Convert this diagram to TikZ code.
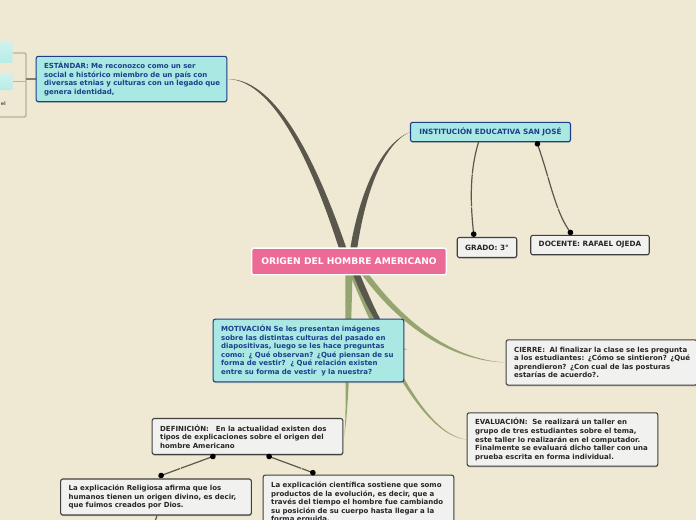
\documentclass[tikz,border=0pt]{standalone}
\usepackage{fontspec}
\setmainfont{DejaVu Sans}
\usetikzlibrary{calc,shadows,arrows.meta}
\definecolor{paper}{HTML}{EFE8D2}
\definecolor{tealfill}{HTML}{A9E8E3}
\definecolor{navy}{HTML}{1C3F8C}
\definecolor{notefill}{HTML}{F1F1EF}
\definecolor{rootfill}{HTML}{EC6A96}
\definecolor{branchdark}{HTML}{5A584C}
\definecolor{branchgreen}{HTML}{95A56F}
\definecolor{bracket}{HTML}{B9B29A}
\pgfdeclarelayer{back}
\pgfsetlayers{back,main}
\tikzset{
  basebox/.style={rectangle,rounded corners=1.6pt,line width=0.8pt,inner ysep=0pt,inner xsep=6pt,
    font=\fontsize{5.25}{6.4}\selectfont\bfseries,align=left,
    execute at begin node={\rightskip=-12pt plus 1fil},
    drop shadow={shadow xshift=0.2pt,shadow yshift=-0.9pt,opacity=0.45}},
  topicbox/.style={basebox,draw=navy,fill=tealfill,text=navy},
  notebox/.style={basebox,draw=black!75,fill=notefill,text=black!85},
  capsfont/.style={font=\fontsize{5.45}{6.4}\selectfont\bfseries,align=center},
  wire/.style={draw=branchdark,line width=0.9pt,dash pattern=on 24pt off 0.7pt},
  dot/.style={{Circle[length=4.2pt,fill=black,color=black]}-{Circle[length=4.2pt,fill=black,color=black]}},
  enddot/.style={-{Circle[length=4.2pt,fill=black,color=black]}},
  leafbox/.style={rectangle,rounded corners=1.5pt,top color=tealfill!55,bottom color=tealfill!85,
    text=black!80,font=\fontsize{4.9}{6.4}\selectfont\bfseries,align=right,inner sep=0pt}
}
\begin{document}
\begin{tikzpicture}[x=0.75pt,y=-0.75pt]
        \useasboundingbox (0,0) rectangle (696,520);
        \clip (0,0) rectangle (696,520);

        \node [draw=white,line width=1pt,fill=rootfill,rounded corners=1.6pt,text=white,
               font=\fontsize{6.85}{7.5}\selectfont\bfseries,minimum width=146pt,minimum height=20pt,inner sep=0pt] (root) at (349,261.5) {ORIGEN DEL HOMBRE AMERICANO};

        \node [topicbox,minimum width=143pt,text width=131pt,minimum height=34pt] (estandar) at (131.5,79) {ESTÁNDAR: Me reconozco como un ser\\social e histórico miembro de un país con\\diversas etnias y culturas con un legado que\\genera identidad,};
        \node [topicbox,capsfont,minimum width=120pt,minimum height=14.5pt] (institucion) at (490.5,132) {INSTITUCIÓN EDUCATIVA SAN JOSÉ};
        \node [notebox,capsfont,minimum width=43pt,minimum height=15pt] (grado) at (487,247.5) {GRADO: 3°};
        \node [notebox,capsfont,minimum width=87pt,minimum height=14.5pt] (docente) at (590,245) {DOCENTE: RAFAEL OJEDA};
        \node [topicbox,minimum width=143pt,text width=131pt,minimum height=47pt] (motivacion) at (308.5,350.5) {MOTIVACIÓN Se les presentan imágenes\\sobre las distintas culturas del pasado en\\diapositivas, luego se les hace preguntas\\como: ¿ Qué observan? ¿Qué piensan de su\\forma de vestir?\ \ ¿ Qué relación existen\\entre su forma de vestir\ \ y la nuestra?};
        \node [notebox,minimum width=143pt,text width=131pt,minimum height=34pt] (cierre) at (601.5,362.5) {CIERRE:\ \ Al finalizar la clase se les pregunta\\a los estudiantes: ¿Cómo se sintieron? ¿Qué\\aprendieron? ¿Con cual de las posturas\\estarías de acuerdo?.};
        \node [notebox,minimum width=143pt,text width=131pt,minimum height=40pt] (evaluacion) at (562.5,439.5) {EVALUACIÓN:\ \ Se realizará un taller en\\grupo de tres estudiantes sobre el tema,\\este taller lo realizarán en el computador.\\Finalmente se evaluará dicho taller con una\\prueba escrita en forma individual.};
        \node [notebox,minimum width=143pt,text width=131pt,minimum height=27pt] (definicion) at (247.5,436.5) {DEFINICIÓN:\ \ \ En la actualidad existen dos\\tipos de explicaciones sobre el origen del\\hombre Americano};
        \node [notebox,minimum width=143pt,text width=131pt,minimum height=27pt] (religiosa) at (156,497) {La explicación Religiosa afirma que los\\humanos tienen un origen divino, es decir,\\que fuimos creados por Dios.};
        \node [notebox,minimum width=143pt,text width=131pt,minimum height=41pt] (cientifica) at (358.5,502.5) {La explicación científica sostiene que somo\\productos de la evolución, es decir, que a\\través del tiempo el hombre fue cambiando\\su posición de su cuerpo hasta llegar a la\\forma erguida.};

        \node [leafbox,minimum width=40pt,minimum height=16.5pt,anchor=east] (leafa) at (13,52) {a\kern6.5pt\hbox{}};
        \node [leafbox,minimum width=40pt,minimum height=13pt,anchor=east] (leafb) at (13,81.5) {.\kern6.5pt\hbox{}};
        \node [text=black!65,font=\fontsize{3.6}{4.5}\selectfont\bfseries,inner sep=0pt,anchor=east] (leafc) at (6,104) {el};
        \coordinate (leafline) at (0,117);

        \coordinate (rootA) at (339.5,250);
        \coordinate (rootB) at (347,250);
        \coordinate (rootC) at (350,250);
        \coordinate (rootD) at (357,250);
        \coordinate (rootE) at (345.5,272);
        \coordinate (rootF) at (352.5,272);
        \coordinate (rootG) at (352,272);
        \coordinate (rootH) at (359,272);
        \coordinate (rootI) at (349,272);
        \coordinate (rootJ) at (355,272);
        \coordinate (rootK) at (360,272);
        \coordinate (rootL) at (367,272);
        \coordinate (stub) at (407,350);
        \coordinate (defend) at (344,436);

        \begin{pgfonlayer}{back}
        \fill[paper] (0,0) rectangle (696,520);
        \fill[branchdark] (rootA) .. controls (317,180) and (278,80) .. (estandar.east)
                          .. controls (281,78) and (323,180) .. (rootB) -- cycle;
        \fill[branchdark] (rootC) .. controls (358,200) and (378,145) .. (institucion.west)
                          .. controls (381,145) and (364,200) .. (rootD) -- cycle;
        \fill[branchgreen] (rootE) .. controls (345,340) and (347,420) .. (defend)
                           .. controls (348,420) and (351,340) .. (rootF) -- cycle;
        \fill[branchgreen] (rootI) .. controls (375,335) and (420,436) .. (evaluacion.west)
                           .. controls (421,434) and (381,335) .. (rootJ) -- cycle;
        \fill[branchgreen] (rootK) .. controls (398,325) and (450,361) .. (cierre.west)
                           .. controls (451,359) and (404,322) .. (rootL) -- cycle;
        \fill[branchdark] (rootG) .. controls (365,305) and (385,345) .. (stub)
                          .. controls (388,343) and (372,303) .. (rootH) -- cycle;
        \draw[bracket,line width=1pt,rounded corners=1pt] (leafa.east |- 0,53) -- (26,53) -- (26,117) -- (leafline);
        \draw[bracket,line width=1pt] (leafb.east) -- (26,81.5);
        \draw[bracket!70!black,line width=1pt] (estandar.west) -- (26,79);
        \end{pgfonlayer}

        \draw[wire,enddot] ($(institucion.south)+(-12,0)$) .. controls (470,170) and (470,200) .. ($(grado.north)+(-13,0)$);
        \draw[wire,dot] ($(institucion.south)+(46,-1)$) .. controls (550,180) and (555,210) .. ($(docente.north)+(-18,0)$);
        \draw[wire,dot] ($(definicion.south)+(-32,0.5)$) -- ($(religiosa.north)+(2.5,-2)$);
        \draw[wire,dot] ($(definicion.south)+(19,0.5)$) -- ($(cientifica.north)+(-43,-1)$);
        \draw[wire] ($(religiosa.south)+(1,0)$) -- ++(-2,6);
      \end{tikzpicture}
\end{document}
